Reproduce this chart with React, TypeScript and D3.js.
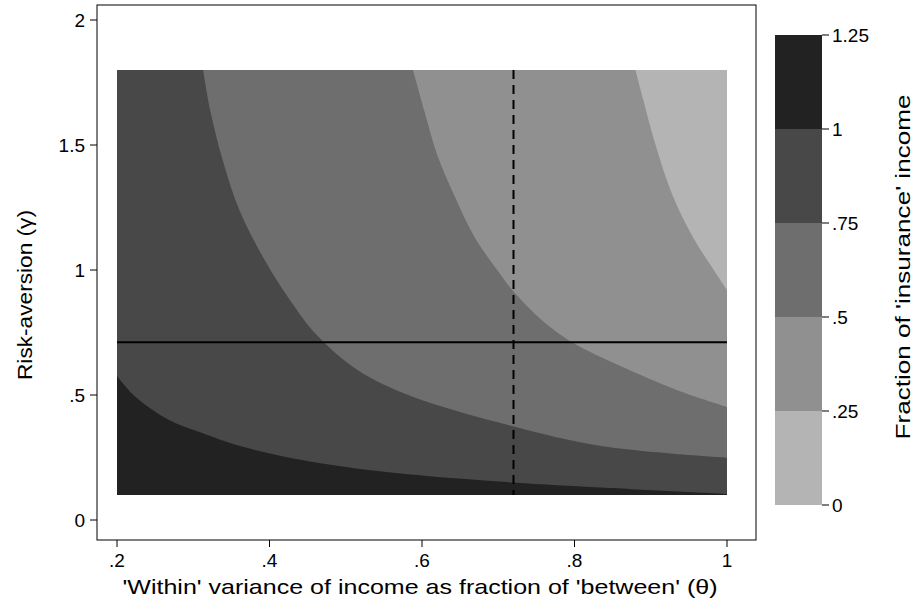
import * as d3 from "d3";

// contour boundaries: [theta, gamma]
const b100: [number, number][] = [
  [0.2, 0.576], [0.2237, 0.494], [0.2677, 0.401], [0.3118, 0.348], [0.3613, 0.296],
  [0.4494, 0.236], [0.5595, 0.19], [0.7192, 0.15], [0.8348, 0.13], [1, 0.104],
];
const b075: [number, number][] = [
  [0.3129, 1.8], [0.3228, 1.631], [0.3393, 1.432], [0.3613, 1.234], [0.3944, 1.036],
  [0.4274, 0.877], [0.4604, 0.745], [0.5155, 0.6], [0.5871, 0.494], [0.7192, 0.375],
  [0.8348, 0.296], [1, 0.249],
];
const b050: [number, number][] = [
  [0.5882, 1.8], [0.6036, 1.631], [0.6201, 1.459], [0.6421, 1.3], [0.6696, 1.128],
  [0.7027, 0.983], [0.7192, 0.917], [0.7577, 0.798], [0.7963, 0.712], [0.8623, 0.613],
  [0.9339, 0.52], [1, 0.452],
];
const b025: [number, number][] = [
  [0.88, 1.8], [0.8899, 1.684], [0.9064, 1.499], [0.9284, 1.3], [0.9559, 1.128],
  [0.9835, 0.996], [1, 0.92],
];
const boundaries = [b100, b075, b050, b025];
const bandColors = ["#222222", "#484848", "#6e6e6e", "#909090", "#b4b4b4"];
const legendLevels = [1.25, 1, 0.75, 0.5, 0.25, 0];
const legendLabels = ["1.25", "1", ".75", ".5", ".25", "0"];
const xTicks = [0.2, 0.4, 0.6, 0.8, 1];
const xTickLabels = [".2", ".4", ".6", ".8", "1"];
const yTicks = [0, 0.5, 1, 1.5, 2];
const yTickLabels = ["0", ".5", "1", "1.5", "2"];
const thetaRange = [0.2, 1];
const gammaRange = [0.1, 1.8];
const refTheta = 0.72;
const refGamma = 0.711;

const FONT = "Liberation Sans, Arial, sans-serif";

export default function App() {
  const x = d3.scaleLinear().domain([0.2, 1]).range([117, 727]);
  const y = d3.scaleLinear().domain([0, 2]).range([520, 20]);
  const cb = d3.scaleLinear().domain([0, 1.25]).range([505, 35]);

  const line = d3
    .line<[number, number]>()
    .x((d) => x(d[0]))
    .y((d) => y(d[1]))
    .curve(d3.curveCatmullRom.alpha(0.5));

  const bandPath = (b: [number, number][]) =>
    `${line(b)}L${x(thetaRange[1])},${y(gammaRange[1])}L${x(b[0][0])},${y(gammaRange[1])}Z`;

  return (
    <svg width={917} height={612} style={{ position: "absolute", left: 0, top: 0 }} fontFamily={FONT}>
      <rect width={917} height={612} fill="#fff" />
      <defs>
        <clipPath id="region">
          <rect
            x={x(thetaRange[0])}
            y={y(gammaRange[1])}
            width={x(thetaRange[1]) - x(thetaRange[0])}
            height={y(gammaRange[0]) - y(gammaRange[1])}
          />
        </clipPath>
      </defs>
      <g clipPath="url(#region)">
        <rect
          x={x(thetaRange[0])}
          y={y(gammaRange[1])}
          width={x(thetaRange[1]) - x(thetaRange[0])}
          height={y(gammaRange[0]) - y(gammaRange[1])}
          fill={bandColors[0]}
        />
        {boundaries.map((b, i) => (
          <path key={i} d={bandPath(b)} fill={bandColors[i + 1]} />
        ))}
      </g>
      <line x1={x(thetaRange[0])} x2={x(thetaRange[1])} y1={y(refGamma)} y2={y(refGamma)} stroke="#000" strokeWidth={2} />
      <line x1={x(refTheta)} x2={x(refTheta)} y1={y(gammaRange[1])} y2={y(gammaRange[0])} stroke="#000" strokeWidth={2} strokeDasharray="9,6" />
      <rect x={97} y={5} width={659} height={535} fill="none" stroke="#000" strokeWidth={1} />
      {xTicks.map((t, i) => (
        <g key={t}>
          <line x1={x(t)} x2={x(t)} y1={540} y2={547} stroke="#000" />
          <text x={x(t)} y={567} textAnchor="middle" fontSize={19}>{xTickLabels[i]}</text>
        </g>
      ))}
      {yTicks.map((t, i) => (
        <g key={t}>
          <line x1={90} x2={97} y1={y(t)} y2={y(t)} stroke="#000" />
          <text x={85} y={y(t) + 7} textAnchor="end" fontSize={19}>{yTickLabels[i]}</text>
        </g>
      ))}
      <text x={420} y={594} textAnchor="middle" fontSize={21} textLength={595} lengthAdjust="spacingAndGlyphs">
        'Within' variance of income as fraction of 'between' (θ)
      </text>
      <text transform={`translate(32,${295}) rotate(-90)`} textAnchor="middle" fontSize={21} textLength={170} lengthAdjust="spacingAndGlyphs">
        Risk-aversion (γ)
      </text>
      {bandColors.map((c, i) => (
        <rect key={c} x={775} y={cb(legendLevels[i])} width={47} height={cb(legendLevels[i + 1]) - cb(legendLevels[i])} fill={c} />
      ))}
      {legendLevels.map((l, i) => (
        <g key={l}>
          <line x1={822} x2={829} y1={cb(l)} y2={cb(l)} stroke="#000" />
          <text x={832} y={cb(l) + 7} fontSize={19}>{legendLabels[i]}</text>
        </g>
      ))}
      <text transform={`translate(910,${267}) rotate(-90)`} textAnchor="middle" fontSize={21} textLength={345} lengthAdjust="spacingAndGlyphs">
        Fraction of 'insurance' income
      </text>
    </svg>
  );
}
